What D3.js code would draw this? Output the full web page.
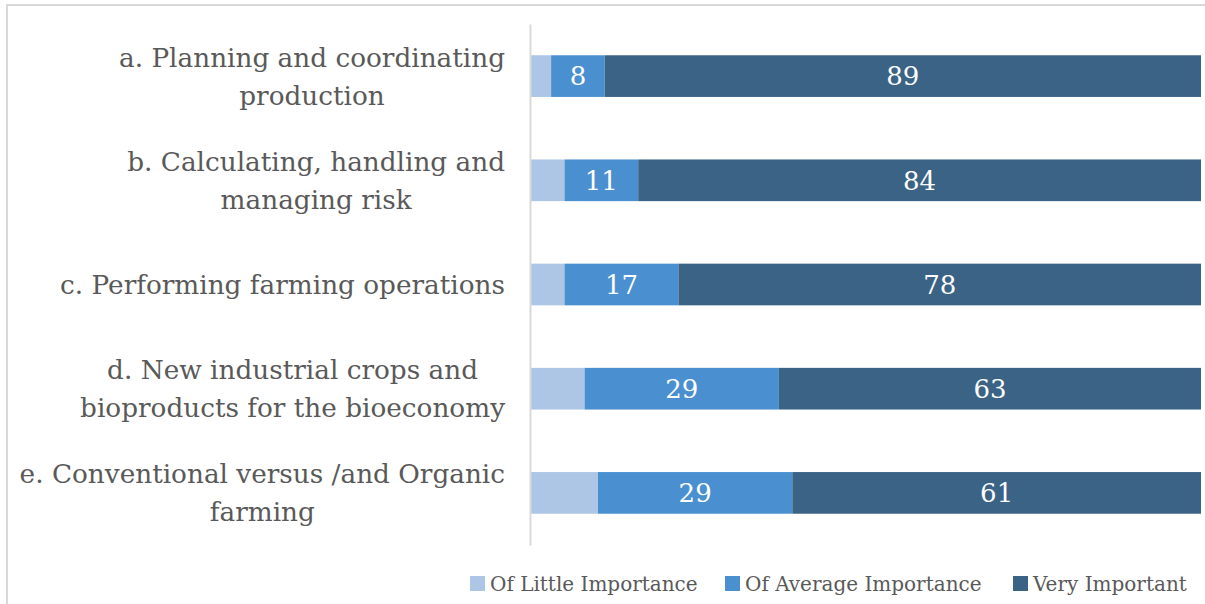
<!DOCTYPE html>
<html>
<head>
<meta charset="utf-8">
<script src="https://cdn.jsdelivr.net/npm/d3@7"></script>
<style>
  body { margin: 0; background: #fff; }
  svg text { font-family: "DejaVu Serif", "Liberation Serif", serif; }
</style>
</head>
<body>
<div class="bar-chart-container"></div>
<script>
// categories (each label split into its lines)
const categories = [
  ['a. Planning and coordinating', 'production'],
  ['b. Calculating, handling and', 'managing risk'],
  ['c. Performing farming operations'],
  ['d. New industrial crops and', 'bioproducts for the bioeconomy'],
  ['e. Conventional versus /and Organic', 'farming']
];
const seriesNames = ['Of Little Importance', 'Of Average Importance', 'Very Important'];
const littleImportance  = [3, 5, 5, 8, 10];
const averageImportance = [8, 11, 17, 29, 29];
const veryImportant     = [89, 84, 78, 63, 61];
const colors = ['#adc6e5', '#4a8fd0', '#3a6385'];

const svg_width = 1205, svg_height = 604;
const chart = {left: 531, right: 1201, top: 24, bottom: 545};

const rows = categories.map((c, i) => ({
  key: c.join(' '),
  lines: c,
  [seriesNames[0]]: littleImportance[i],
  [seriesNames[1]]: averageImportance[i],
  [seriesNames[2]]: veryImportant[i]
}));

const svg = d3.select('.bar-chart-container').append('svg')
  .attr('width', svg_width).attr('height', svg_height);

// outer frame
svg.append('rect')
  .attr('x', 7).attr('y', 5).attr('width', 1300).attr('height', 700)
  .attr('fill', 'none').attr('stroke', '#d9d9d9').attr('stroke-width', 2);

const xScale = d3.scaleLinear().domain([0, 100]).range([chart.left, chart.right]);
const yScale = d3.scaleBand().domain(rows.map(d => d.key))
  .range([chart.top, chart.bottom])
  .paddingInner(0.6).paddingOuter(0.3);

const stacked = d3.stack().keys(seriesNames)(rows);

//繪製長條
const groups = svg.selectAll('.series').data(stacked).enter()
  .append('g').attr('class', 'series')
  .attr('fill', (d, i) => colors[i]);

groups.selectAll('rect').data(d => d).enter().append('rect')
  .attr('x', d => xScale(d[0]))
  .attr('y', d => yScale(d.data.key))
  .attr('width', d => xScale(d[1]) - xScale(d[0]))
  .attr('height', yScale.bandwidth());

// value labels (skip the little-importance series)
groups.filter((d, i) => i > 0).selectAll('text').data(d => d).enter().append('text')
  .attr('x', d => (xScale(d[0]) + xScale(d[1])) / 2)
  .attr('y', d => yScale(d.data.key) + yScale.bandwidth() / 2)
  .attr('dy', '0.36em')
  .attr('text-anchor', 'middle')
  .attr('fill', '#fff')
  .style('font-size', '26px')
  .text(d => d[1] - d[0]);

// y axis line
const yAxis = d3.axisLeft(yScale).tickSize(0).tickFormat('');
const yAxisDraw = svg.append('g')
  .attr('transform', `translate(${chart.left - 1},0)`)
  .call(yAxis);
yAxisDraw.select('.domain').attr('stroke', '#d9d9d9').attr('stroke-width', 2);

// category labels: block right-aligned, lines centred
const lineH = 38;
const labelRight = 505;
rows.forEach(r => {
  const g = svg.append('g');
  const cy = yScale(r.key) + yScale.bandwidth() / 2;
  const texts = r.lines.map((ln, j) => g.append('text')
    .attr('y', cy + (j - (r.lines.length - 1) / 2) * lineH)
    .attr('dy', '0.36em')
    .attr('text-anchor', 'middle')
    .attr('fill', '#595959')
    .style('font-size', '26.3px')
    .text(ln));
  const w = d3.max(texts, t => t.node().getComputedTextLength());
  texts.forEach(t => t.attr('x', labelRight - w / 2));
});

// legend
const legendX = [470, 725, 1013];
const legend = svg.append('g').attr('class', 'legend');
seriesNames.forEach((s, i) => {
  legend.append('rect')
    .attr('x', legendX[i]).attr('y', 576)
    .attr('width', 15).attr('height', 15)
    .attr('fill', colors[i]);
  legend.append('text')
    .attr('x', legendX[i] + 20).attr('y', 584)
    .attr('dy', '0.36em')
    .attr('fill', '#595959')
    .style('font-size', '20px')
    .text(s);
});
</script>
</body>
</html>
